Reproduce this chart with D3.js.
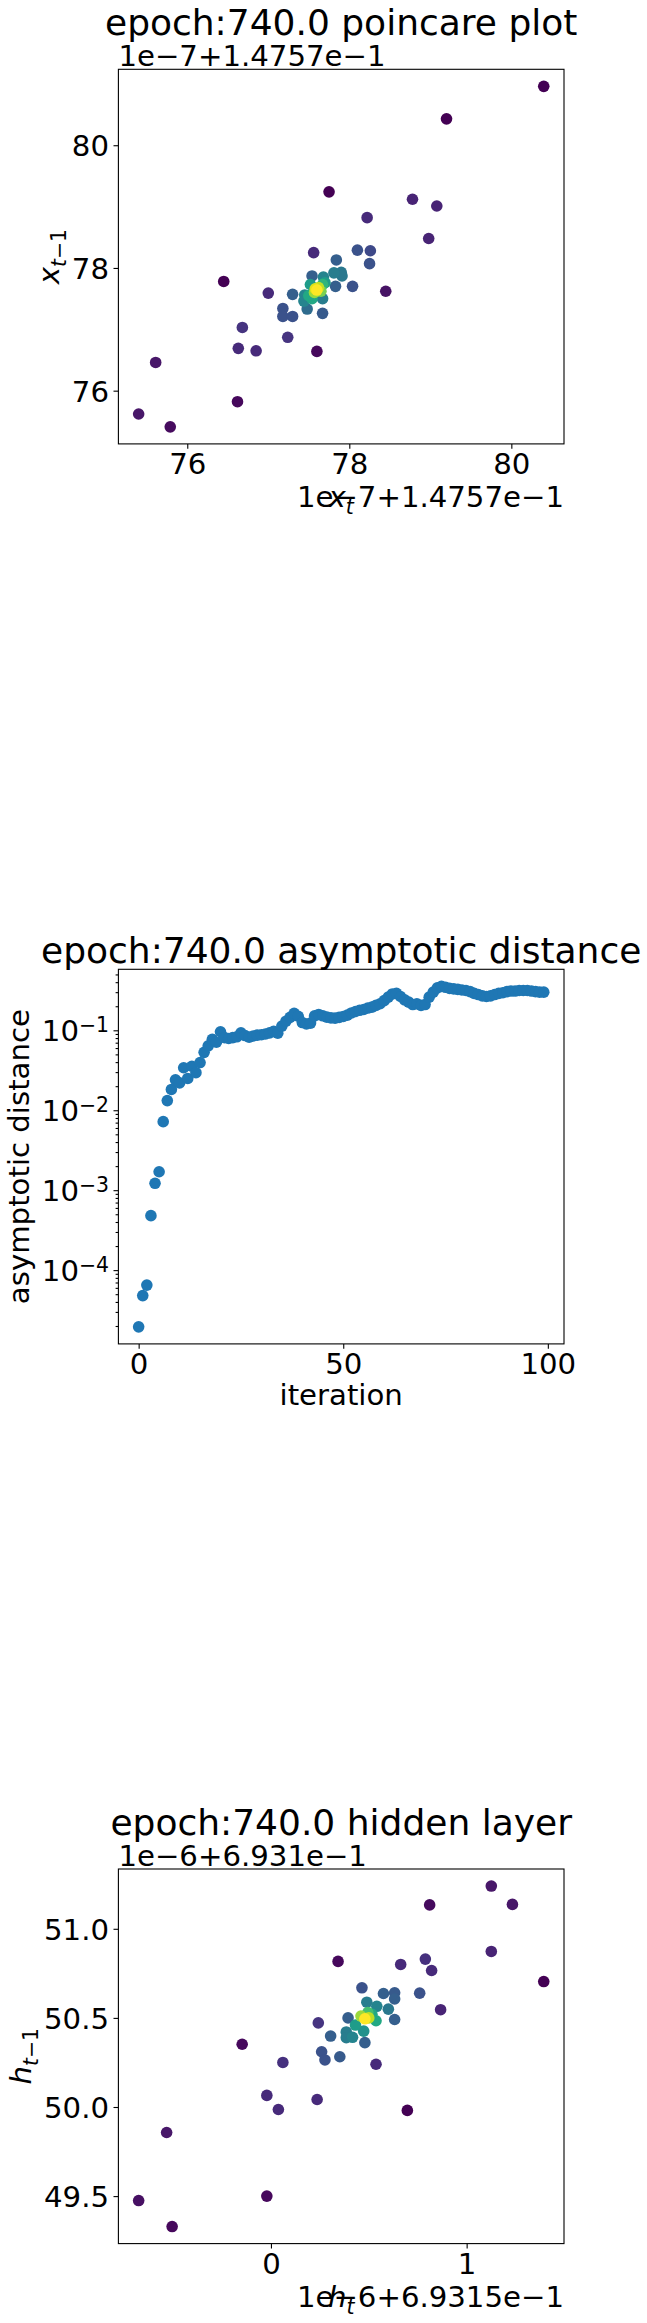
<!DOCTYPE html>
<html><head><meta charset="utf-8">
<script src="https://cdn.jsdelivr.net/npm/d3@7"></script>
<style>
body{margin:0;background:#fff}
svg{display:block}
text{font-family:"DejaVu Sans",sans-serif;fill:#000}
</style>
</head><body>
<svg id="c" width="647" height="2323"></svg>
<script>
// ---------------- DATA ----------------
const titles = ["epoch:740.0 poincare plot", "epoch:740.0 asymptotic distance", "epoch:740.0 hidden layer"];

// Panel 1: poincare plot (values relative to offset 1e-7 + 1.4757e-1)
const poincareOffsetY = "1e\u22127+1.4757e\u22121";
const poincareOffsetX = "1e\u22127+1.4757e\u22121";
const poincareX = [80.40,79.20,77.75,78.78,79.08,78.22,78.98,77.56,78.10,78.26,77.84,78.25,76.45,77.54,77.68,77.81,77.90,77.91,77.83,78.04,78.45,77.00,77.30,77.45,77.60,77.67,77.52,77.44,77.54,77.67,77.18,77.18,77.30,77.48,77.67,76.68,77.24,76.63,76.85,77.60,75.61,76.62,75.40,75.79,77.62,77.57,77.65,77.50,77.70,77.58];
const poincareY = [80.96,80.43,79.24,79.12,79.01,78.82,78.48,78.25,78.29,78.28,78.13,78.07,77.78,77.87,77.85,77.92,77.93,77.87,77.70,77.70,77.62,77.59,77.57,77.56,77.64,77.73,77.73,77.46,77.50,77.50,77.34,77.21,77.21,77.33,77.26,77.03,76.87,76.69,76.65,76.64,76.46,75.82,75.62,75.41,77.68,77.60,77.62,77.55,77.76,77.66];
const poincareDensity = [0.0,0.0,0.0,0.10,0.10,0.12,0.10,0.12,0.25,0.22,0.30,0.25,0.0,0.30,0.45,0.42,0.40,0.40,0.30,0.25,0.05,0.12,0.30,0.45,1.0,0.65,0.55,0.45,0.60,0.42,0.25,0.25,0.25,0.35,0.28,0.15,0.15,0.12,0.12,0.02,0.06,0.02,0.06,0.03,0.90,0.85,0.80,0.60,0.55,0.95];
const poincareXTicks = [76, 78, 80];
const poincareYTicks = [76, 78, 80];

// Panel 2: asymptotic distance per iteration
const iterations = d3.range(100);
const asymDist = [
1.95e-5,4.8e-5,6.5e-5,4.8e-4,1.22e-3,1.7e-3,7.2e-3,0.0132,0.0182,0.0240,
0.0220,0.0340,0.0250,0.0355,0.0295,0.0395,0.053,0.064,0.077,0.071,
0.096,0.081,0.079,0.081,0.083,0.093,0.086,0.082,0.085,0.087,
0.088,0.090,0.093,0.097,0.092,0.113,0.130,0.145,0.163,0.150,
0.125,0.120,0.123,0.152,0.158,0.152,0.146,0.143,0.142,0.145,
0.149,0.155,0.165,0.172,0.178,0.182,0.190,0.195,0.205,0.215,
0.235,0.260,0.285,0.290,0.265,0.240,0.225,0.210,0.215,0.205,
0.210,0.260,0.300,0.340,0.355,0.345,0.335,0.330,0.325,0.320,
0.315,0.305,0.290,0.280,0.270,0.265,0.270,0.280,0.290,0.295,
0.305,0.310,0.310,0.315,0.315,0.315,0.310,0.305,0.300,0.300];
const distXTicks = [0, 50, 100];
const distYTicks = [1e-4, 1e-3, 1e-2, 1e-1];
const distYTickExp = ["\u22124", "\u22123", "\u22122", "\u22121"];

// Panel 3: hidden layer (values relative to offsets)
const hiddenOffsetY = "1e\u22126+6.931e\u22121";
const hiddenOffsetX = "1e\u22126+6.9315e\u22121";
const hiddenX = [1.126,1.234,0.811,1.126,0.343,0.663,0.789,0.821,1.394,0.465,0.575,0.632,0.632,0.760,0.490,0.867,0.600,0.541,0.394,0.242,0.480,0.537,0.632,0.432,0.474,0.385,0.305,0.385,0.417,0.480,-0.147,0.259,0.276,0.352,0.537,0.061,-0.021,0.236,0.038,0.697,-0.533,-0.021,-0.676,-0.505,0.495,0.516,0.460,0.500];
const hiddenY = [51.240,51.137,51.134,50.873,50.817,50.800,50.830,50.766,50.704,50.669,50.637,50.641,50.606,50.639,50.588,50.546,50.549,50.565,50.500,50.472,50.495,50.484,50.491,50.460,50.426,50.421,50.398,50.389,50.391,50.361,50.352,50.310,50.264,50.282,50.240,50.250,50.065,50.042,49.986,49.981,49.857,49.500,49.475,49.329,50.530,50.520,50.510,50.500];
const hiddenDensity = [0.06,0.06,0.03,0.10,0.02,0.12,0.14,0.12,0.0,0.25,0.30,0.28,0.30,0.25,0.42,0.10,0.40,0.45,0.30,0.15,1.0,0.60,0.30,0.55,0.50,0.42,0.30,0.42,0.45,0.30,0.02,0.25,0.25,0.28,0.12,0.14,0.12,0.12,0.12,0.0,0.06,0.02,0.04,0.02,0.70,0.60,0.85,0.90];
const hiddenXTicks = [0, 1];
const hiddenYTicks = [49.5, 50.0, 50.5, 51.0];

// ---------------- LAYOUT ----------------
const L = 118.4, PW = 445.6, PH = 374.6;
const tops = [69.3, 969.3, 1869];
const TICK_FS = 29.2, TITLE_FS = 36, SUB_FS = 20.4;
const TICK_LEN = 4.9, MINOR_LEN = 2.8;
const R = 5.8;
const svg = d3.select("#c");

function padExtent(vals){
  const [a,b] = d3.extent(vals); const p = (b-a)*0.05; return [a-p, b+p];
}
function styleAxis(g){
  g.attr("font-size", null).attr("font-family", null);
  g.select(".domain").remove();
  g.selectAll(".tick line").attr("stroke","#000").attr("stroke-width",1.1);
  g.selectAll(".tick text").attr("fill","#000")
    .style("font-family","DejaVu Sans").style("font-size", TICK_FS+"px");
}
function frame(top){
  svg.append("rect").attr("x",L).attr("y",top).attr("width",PW).attr("height",PH)
    .attr("fill","none").attr("stroke","#000").attr("stroke-width",1.1);
}
function title(i, baseline){
  svg.append("text").attr("x", L+PW/2).attr("y", baseline).attr("text-anchor","middle")
    .style("font-size", TITLE_FS+"px").text(titles[i]);
}
function plainText(x, y, anchor, str){
  svg.append("text").attr("x",x).attr("y",y).attr("text-anchor",anchor)
    .style("font-size", TICK_FS+"px").text(str);
}
function mathLabel(x, y, base, sub, rotate){
  const t = svg.append("text").attr("text-anchor","middle")
    .attr("transform", `translate(${x},${y})` + (rotate ? " rotate(-90)" : ""))
    .style("font-size", TICK_FS+"px");
  t.append("tspan").style("font-style","italic").text(base);
  t.append("tspan").attr("dy", 7).style("font-size", SUB_FS+"px").style("font-style","italic").text("t");
  if (sub) t.append("tspan").style("font-size", SUB_FS+"px").text(sub);
  return t;
}
function xAxis(top, x, xt){
  const gx = svg.append("g").attr("transform",`translate(0,${top+PH})`)
    .call(d3.axisBottom(x).tickValues(xt).tickSize(TICK_LEN).tickPadding(4.4).tickFormat(d3.format("d")));
  styleAxis(gx);
}
function yAxis(x, y, yt, fmt){
  const gy = svg.append("g").attr("transform",`translate(${L},0)`)
    .call(d3.axisLeft(y).tickValues(yt).tickSize(TICK_LEN).tickPadding(4.5).tickFormat(fmt));
  styleAxis(gy);
  gy.selectAll(".tick text").attr("dy","0.36em");
  return gy;
}
function scatter(xs, ys, dens, x, y){
  const idx = d3.range(xs.length).sort((a,b)=>dens[a]-dens[b]);
  svg.append("g").selectAll("circle").data(idx).join("circle")
    .attr("cx", i=>x(xs[i])).attr("cy", i=>y(ys[i])).attr("r", R)
    .attr("fill", i=>d3.interpolateViridis(dens[i]));
}

// ---------------- PANEL 1 ----------------
{
  const top = tops[0];
  const x = d3.scaleLinear().domain(padExtent(poincareX)).range([L, L+PW]);
  const y = d3.scaleLinear().domain(padExtent(poincareY)).range([top+PH, top]);
  scatter(poincareX, poincareY, poincareDensity, x, y);
  frame(top);
  xAxis(top, x, poincareXTicks);
  yAxis(x, y, poincareYTicks, d3.format("d"));
  title(0, top-34);
  plainText(L, top-3, "start", poincareOffsetY);
  plainText(L+PW, top+PH+63, "end", poincareOffsetX);
  mathLabel(L+PW/2, top+PH+63, "x", null, false);
  mathLabel(59, top+PH/2, "x", "\u22121", true);
}

// ---------------- PANEL 2 ----------------
{
  const top = tops[1];
  const x = d3.scaleLinear().domain(padExtent(iterations)).range([L, L+PW]);
  const logs = asymDist.map(Math.log10);
  const [la, lb] = padExtent(logs);
  const y = d3.scaleLog().domain([Math.pow(10,la), Math.pow(10,lb)]).range([top+PH, top]);
  svg.append("g").selectAll("circle").data(iterations).join("circle")
    .attr("cx", i=>x(iterations[i])).attr("cy", i=>y(asymDist[i])).attr("r", R)
    .attr("fill", "#1f77b4");
  frame(top);
  xAxis(top, x, distXTicks);
  const minor = y.ticks().filter(v => Math.abs(Math.log10(v) - Math.round(Math.log10(v))) > 1e-6);
  const gm = svg.append("g").attr("transform",`translate(${L},0)`)
    .call(d3.axisLeft(y).tickValues(minor).tickSize(MINOR_LEN).tickFormat(""));
  styleAxis(gm);
  const gy = yAxis(x, y, distYTicks, () => "");
  gy.selectAll(".tick text").each(function(d, i){
    const t = d3.select(this);
    t.text(null);
    t.append("tspan").text("10");
    t.append("tspan").attr("dy", -9.5).style("font-size", SUB_FS+"px").text(distYTickExp[i]);
  });
  title(1, top-6);
  plainText(L+PW/2, top+PH+61, "middle", "iteration");
  svg.append("text").attr("text-anchor","middle")
    .attr("transform", `translate(29,${top+PH/2}) rotate(-90)`)
    .style("font-size", TICK_FS+"px").text("asymptotic distance");
}

// ---------------- PANEL 3 ----------------
{
  const top = tops[2];
  const x = d3.scaleLinear().domain(padExtent(hiddenX)).range([L, L+PW]);
  const y = d3.scaleLinear().domain(padExtent(hiddenY)).range([top+PH, top]);
  scatter(hiddenX, hiddenY, hiddenDensity, x, y);
  frame(top);
  xAxis(top, x, hiddenXTicks);
  yAxis(x, y, hiddenYTicks, d3.format(".1f"));
  title(2, top-34);
  plainText(L, top-3, "start", hiddenOffsetY);
  plainText(L+PW, top+PH+63, "end", hiddenOffsetX);
  mathLabel(L+PW/2, top+PH+63, "h", null, false);
  mathLabel(31, top+PH/2, "h", "\u22121", true);
}
</script>
</body></html>
